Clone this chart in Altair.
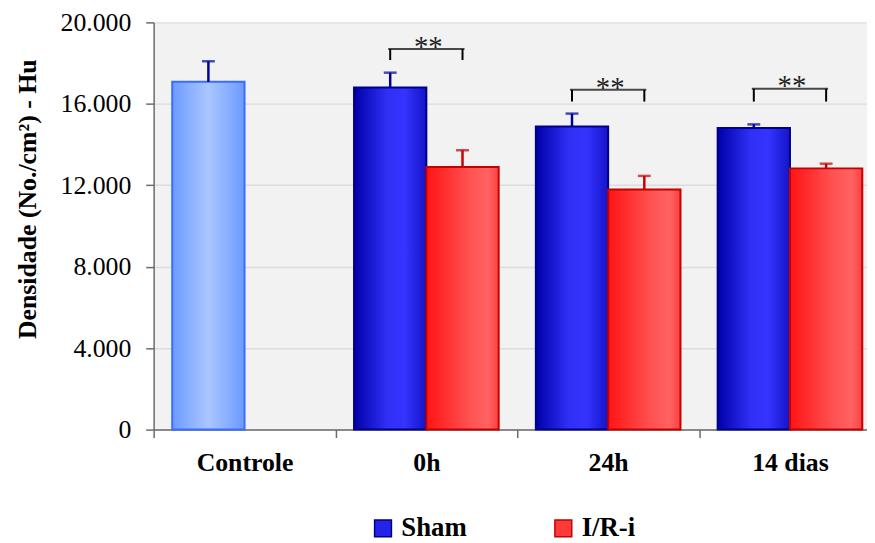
import altair as alt
import pandas as pd

# ---- data ----
categories = ["Controle", "0h", "24h", "14 dias"]
control_value = 17080
control_err = 1010
groups = ["0h", "24h", "14 dias"]
sham_values = [16800, 14890, 14810]
sham_errs = [730, 630, 180]
ir_values = [12900, 11790, 12830]
ir_errs = [820, 670, 230]
sig_labels = ["**", "**", "**"]
bracket_top = [18690, 16690, 16740]
bracket_bottom = [18150, 16110, 16110]
star_base = [18330, 16330, 16430]
y_ticks = [0, 4000, 8000, 12000, 16000, 20000]
legend_series = ["Sham", "I/R-i"]

# ---- tables ----
rows = [{"cat": "Controle", "series": "Controle", "slot": "a",
         "value": control_value, "err": control_err}]
for g, v, e in zip(groups, sham_values, sham_errs):
    rows.append({"cat": g, "series": "Sham", "slot": "a", "value": v, "err": e})
for g, v, e in zip(groups, ir_values, ir_errs):
    rows.append({"cat": g, "series": "I/R-i", "slot": "b", "value": v, "err": e})
bars = pd.DataFrame(rows)
bars["upper"] = bars["value"] + bars["err"]

sig = pd.DataFrame({"cat": groups, "label": sig_labels, "top": bracket_top,
                    "bottom": bracket_bottom, "star": star_base})
legs = pd.concat([sig.assign(slot="a"), sig.assign(slot="b")], ignore_index=True)
leg_df = pd.DataFrame({"series": legend_series, "cat": ["Controle"] * 2, "value": [0, 0]})

FONT = "Liberation Serif"
AX = "#6b6b6b"

x_scale = alt.Scale(domain=categories, range=[0, 734], paddingInner=0, paddingOuter=0)
off_scale = alt.Scale(domain=["a", "b"], paddingInner=0, paddingOuter=0.257)
y_scale = alt.Scale(domain=[0, 20000], nice=False)

x_axis = alt.Axis(title=None, tickBand="extent", labelFont=FONT, labelFontSize=26,
                  labelFontWeight="bold", labelColor="black", labelPadding=12,
                  tickSize=8, tickColor=AX, tickWidth=1.5, domainColor=AX,
                  domainWidth=1.5, grid=False, labelAngle=0)
y_axis = alt.Axis(values=y_ticks,
                  labelExpr="datum.value == 0 ? '0' : replace(format(datum.value, ','), ',', '.')",
                  title="Densidade (No./cm²) - Hu", titleFont=FONT, titleFontSize=26,
                  titleFontWeight="bold", titleColor="black", titleAngle=270,
                  titleX=-119, titleY=178, titleAlign="center", titleBaseline="alphabetic",
                  labelFont=FONT, labelFontSize=26, labelColor="black", labelPadding=15,
                  tickSize=8, tickColor=AX, tickWidth=1.5, domainColor=AX, domainWidth=1.5,
                  grid=True, gridColor="#dcdcdc", gridWidth=1.5)


def xe():
    return alt.X("cat:N", scale=x_scale, axis=x_axis, sort=categories)


def ye(field):
    return alt.Y(f"{field}:Q", scale=y_scale, axis=y_axis)


def off():
    return alt.XOffset("slot:N", scale=off_scale)


def grad(stops):
    return alt.Gradient(gradient="linear", x1=0, x2=1, y1=0, y2=0,
                        stops=[alt.GradientStop(color=c, offset=o) for o, c in stops])


g_ctrl = grad([(0, "#6b9bff"), (0.5, "#abc6ff"), (1, "#6b9bff")])
g_sham = grad([(0, "#0000a8"), (0.45, "#2f2ff5"), (0.7, "#3434ff"), (1, "#1414c8")])
g_ir = grad([(0, "#ff1414"), (0.6, "#ff5252"), (0.85, "#ff6262"), (1, "#ff4040")])

base = alt.Chart(bars)

bar_ctrl = base.transform_filter(alt.datum.series == "Controle").mark_bar(
    fill=g_ctrl, stroke="#3a6cff", strokeWidth=2).encode(x=xe(), xOffset=off(), y=ye("value"))
bar_sham = base.transform_filter(alt.datum.series == "Sham").mark_bar(
    fill=g_sham, stroke="#00008a", strokeWidth=2).encode(x=xe(), xOffset=off(), y=ye("value"))
bar_ir = base.transform_filter(alt.datum.series == "I/R-i").mark_bar(
    fill=g_ir, stroke="#c40000", strokeWidth=2).encode(x=xe(), xOffset=off(), y=ye("value"))

err_color = alt.condition("datum.series == 'I/R-i'", alt.value("#c80000"), alt.value("#000096"))
err_rule = base.mark_rule(strokeWidth=2.5).encode(
    x=xe(), xOffset=off(), y=ye("value"), y2="upper:Q", stroke=err_color)
err_cap = base.mark_tick(size=13, thickness=2.5, orient="horizontal").encode(
    x=xe(), xOffset=off(), y=ye("upper"), color=err_color)

br_h = alt.Chart(sig).mark_tick(size=77, thickness=2, orient="horizontal", color="black").encode(
    x=xe(), y=ye("top"))
br_v = alt.Chart(legs).mark_rule(strokeWidth=2, color="black").encode(
    x=xe(), xOffset=off(), y=ye("bottom"), y2="top:Q")
stars = alt.Chart(sig).mark_text(font=FONT, fontSize=29, color="#222222",
                                 baseline="alphabetic", dx=2).encode(
    x=xe(), y=ye("star"), text="label:N")

leg = alt.Legend(title=None, orient="none", legendX=218, legendY=497, direction="horizontal",
                 symbolType="square", symbolSize=289, symbolOpacity=1, symbolStrokeWidth=1.5,
                 labelFont=FONT, labelFontSize=27, labelFontWeight="bold", labelColor="black",
                 labelOffset=5, columnPadding=83, padding=0)
legend_layer = alt.Chart(leg_df).mark_point(shape="square", filled=True, opacity=0).encode(
    x=xe(), y=ye("value"),
    fill=alt.Fill("series:N", scale=alt.Scale(domain=legend_series, range=["#2424e8", "#ff3a3a"]),
                  legend=leg),
    stroke=alt.Stroke("series:N", scale=alt.Scale(domain=legend_series, range=["#00008a", "#c40000"]),
                      legend=leg))

chart = alt.layer(bar_ctrl, bar_sham, bar_ir, err_rule, err_cap, br_h, br_v, stars,
                  legend_layer).properties(
    width=720, height=411,
    autosize=alt.AutoSizeParams(type="none"),
    padding={"left": 147, "top": 12, "right": 0, "bottom": 118},
).configure(
    font=FONT, background="white"
).configure_axis(
    labelFont=FONT, titleFont=FONT
).configure_legend(
    labelFont=FONT
).configure_text(
    font=FONT
).configure_view(fill="#f2f2f2", stroke="transparent")

chart.save("out.html", embed_options={"renderer": "svg", "actions": False})
